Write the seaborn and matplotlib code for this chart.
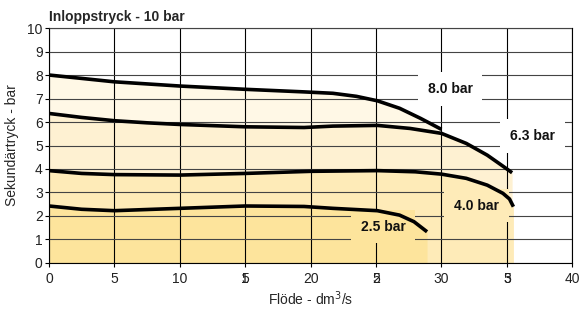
import matplotlib
matplotlib.use("Agg")
import matplotlib.pyplot as plt
import pandas as pd
import seaborn as sns

# Curves (x = flow dm3/s, y = secondary pressure bar)
x_80 = [0, 5, 10, 15, 19.5, 21.7, 23.5, 25.1, 26.8, 28.4, 30.0]
y_80 = [8.01, 7.72, 7.54, 7.40, 7.29, 7.23, 7.10, 6.91, 6.59, 6.16, 5.69]

x_63 = [0, 2.5, 5, 7.5, 10, 15, 19.5, 21.7, 25.1, 27.6, 30.0, 31.9, 33.5, 34.7, 35.4]
y_63 = [6.37, 6.20, 6.06, 5.97, 5.90, 5.80, 5.77, 5.83, 5.86, 5.73, 5.52, 5.09, 4.59, 4.12, 3.84]

x_40 = [0, 2.5, 5, 10, 15, 20, 25.1, 28, 30, 31.9, 33.5, 34.7, 35.2, 35.5]
y_40 = [3.93, 3.81, 3.76, 3.74, 3.81, 3.90, 3.93, 3.88, 3.78, 3.60, 3.31, 2.96, 2.72, 2.39]

x_25 = [0, 2.5, 5, 10, 15, 19.5, 21.7, 25.1, 26.8, 27.9, 28.9]
y_25 = [2.42, 2.28, 2.22, 2.32, 2.42, 2.40, 2.32, 2.22, 2.03, 1.75, 1.32]

series = ["8.0 bar", "6.3 bar", "4.0 bar", "2.5 bar"]
fill_colors = ["#FFF8E6", "#FEF1D2", "#FEEBB8", "#FDE49C"]
label_pos = [(30.66, 7.41), (36.97, 5.40), (32.68, 2.43), (25.53, 1.54)]
label_bg = ["white", "white", "#FEEBB8", "#FDE49C"]

x_ticks = [0, 5, 10, 15, 20, 25, 30, 35, 40]
x_ticklabels = ["0", "5", "10", "5", "20", "5", "30", "5", "40"]
x_overlay = {15: "1", 25: "2", 35: "3"}

curves = [(x_80, y_80), (x_63, y_63), (x_40, y_40), (x_25, y_25)]
df = pd.concat([pd.DataFrame({"x": xs, "y": ys, "serie": name})
                for name, (xs, ys) in zip(series, curves)])

sns.set_style("ticks")
plt.rcParams["font.family"] = ["Liberation Sans", "DejaVu Sans"]

fig = plt.figure(figsize=(5.79, 3.12), dpi=100)
ax = fig.add_axes([0.0846, 0.158, 0.9038, 0.751])

for (xs, ys), c in zip(curves, fill_colors):
    ax.fill_between(xs, ys, 0, color=c, lw=0, zorder=1)

sns.lineplot(data=df, x="x", y="y", hue="serie", palette=["black"] * 4,
             sort=False, legend=False, lw=2.6, ax=ax, zorder=5,
             solid_joinstyle="round", solid_capstyle="butt")

for name, (lx, ly), bg in zip(series, label_pos, label_bg):
    ax.text(lx, ly, name, ha="center", va="center", fontsize=10,
            fontweight="bold", color="#111", zorder=4,
            bbox=dict(boxstyle="square,pad=0.7", fc=bg, ec="none"))

ax.set_xlim(0, 40)
ax.set_ylim(0, 10)
ax.set_xticks(x_ticks)
ax.set_xticklabels(x_ticklabels)
ax.set_yticks(range(0, 11))
for xv, t in x_overlay.items():
    ax.annotate(t, xy=(xv, 0), xycoords=("data", "axes fraction"),
                xytext=(0, -6.5), textcoords="offset points",
                ha="center", va="top", fontsize=10, color="#222")

ax.set_axisbelow(False)
ax.xaxis.grid(True, color="black", lw=0.8, zorder=2)
ax.yaxis.grid(True, color="#444", lw=0.8, zorder=2)
for s in ax.spines.values():
    s.set_visible(True)
    s.set_color("black")
    s.set_linewidth(0.8)
ax.tick_params(direction="out", length=3, width=0.8, labelsize=10,
               labelcolor="#222", color="black", pad=3.5)
ax.tick_params(axis="y", pad=1.5)

ax.set_title("Inloppstryck - 10 bar", loc="left", fontsize=10,
             fontweight="bold", pad=5)
ax.set_xlabel("Flöde - dm$^3$/s", fontsize=10, labelpad=3)
ax.set_ylabel("Sekundärtryck - bar", fontsize=10, labelpad=6)

fig.savefig("out.png", dpi=100)
